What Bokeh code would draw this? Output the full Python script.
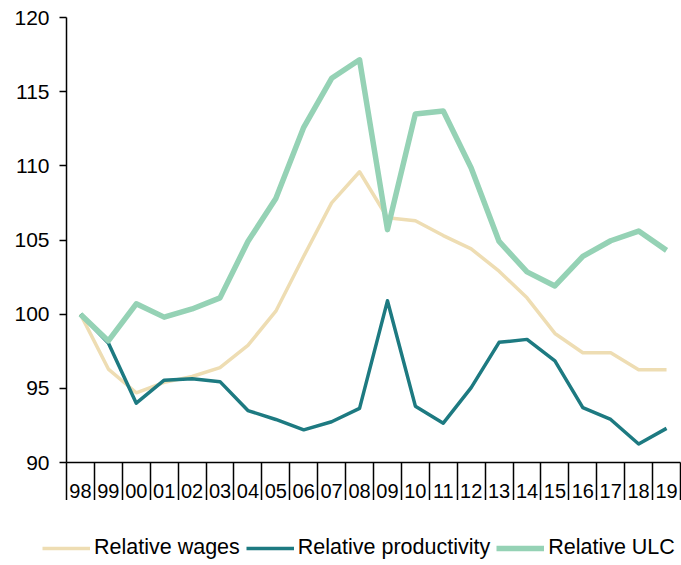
from bokeh.plotting import figure
from bokeh.models import FixedTicker, Range1d, Legend, LegendItem, ColumnDataSource
from bokeh.layouts import column
from bokeh.embed import file_html
from bokeh.resources import INLINE

years = ["98", "99", "00", "01", "02", "03", "04", "05", "06", "07", "08",
         "09", "10", "11", "12", "13", "14", "15", "16", "17", "18", "19"]
wages = [100.0, 96.3, 94.7, 95.4, 95.8, 96.4, 97.9, 100.2, 103.9, 107.5, 109.6,
         106.5, 106.3, 105.3, 104.4, 102.9, 101.1, 98.7, 97.4, 97.4, 96.25, 96.25]
productivity = [100.0, 98.05, 94.0, 95.55, 95.65, 95.45, 93.5, 92.9, 92.2, 92.75, 93.65,
                100.9, 93.8, 92.65, 95.05, 98.1, 98.3, 96.85, 93.7, 92.9, 91.25, 92.3]
ulc = [100.0, 98.2, 100.7, 99.8, 100.35, 101.1, 104.9, 107.8, 112.6, 115.9, 117.15,
       105.7, 113.5, 113.7, 109.85, 104.9, 102.85, 101.9, 103.9, 104.95, 105.6, 104.3]
y_ticks = [90, 95, 100, 105, 110, 115, 120]
series_names = ["Relative wages", "Relative productivity", "Relative ULC"]
series_cols = ["wages", "prod", "ulc"]
colors = ["#EEDDB3", "#1D7A81", "#95D2B5"]
widths = [3.5, 3.5, 5.5]

idx = list(range(1, len(years) + 1))
bounds = [i - 0.5 for i in idx] + [len(years) + 0.5]

src = ColumnDataSource(dict(x=idx, wages=wages, prod=productivity, ulc=ulc))

FONT = "Liberation Sans"

p = figure(width=681, height=500, output_backend="svg", toolbar_location=None,
           x_range=Range1d(0.5, len(years) + 0.5), y_range=Range1d(90, 120),
           min_border_left=66, min_border_right=1, min_border_top=17, min_border_bottom=20)
p.grid.visible = False
p.outline_line_color = None
p.background_fill_color = "white"
p.border_fill_color = "white"

for col, c, w in zip(series_cols, colors, widths):
    p.line("x", col, source=src, line_color=c, line_width=w, line_join="round")

# y axis
ya = p.yaxis[0]
ya.ticker = FixedTicker(ticks=y_ticks)
ya.axis_line_color = "black"
ya.axis_line_width = 1.5
ya.major_tick_line_color = "black"
ya.major_tick_line_width = 1.5
ya.major_tick_out = 7
ya.major_tick_in = 0
ya.minor_tick_line_color = None
ya.major_label_text_font = FONT
ya.major_label_text_font_size = "21px"
ya.major_label_text_color = "black"
ya.major_label_standoff = 10

# x axis: labels at centers, boundary lines as minor ticks
xa = p.xaxis[0]
xa.ticker = FixedTicker(ticks=idx, minor_ticks=bounds)
xa.major_label_overrides = {i: y for i, y in zip(idx, years)}
xa.axis_line_color = "black"
xa.axis_line_width = 1.5
xa.major_tick_line_color = None
xa.major_tick_out = 0
xa.major_tick_in = 0
xa.minor_tick_line_color = "black"
xa.minor_tick_line_width = 1.5
xa.minor_tick_out = 44
xa.minor_tick_in = 0
xa.major_label_text_font = FONT
xa.major_label_text_font_size = "20px"
xa.major_label_text_color = "black"
xa.major_label_standoff = -23

# legend strip below the chart (its lines fall outside its own view)
lg = figure(width=681, height=65, output_backend="svg", toolbar_location=None,
            x_range=Range1d(0, 0.1), y_range=Range1d(0, 0.1),
            x_axis_location=None, y_axis_location=None,
            min_border_left=0, min_border_right=0, min_border_top=0, min_border_bottom=0)
lg.frame_align = False
lg.grid.visible = False
lg.outline_line_color = None
items = []
for name, col, c, w in zip(series_names, series_cols, colors, widths):
    r = lg.line("x", col, source=src, line_color=c, line_width=w)
    items.append(LegendItem(label=name, renderers=[r]))
legend = Legend(items=items, orientation="horizontal", location=(42, 5),
                label_text_font=FONT, label_text_font_size="21.5px",
                label_text_color="black", glyph_width=48, glyph_height=20,
                label_standoff=4, spacing=6, padding=0, margin=0,
                border_line_color=None, background_fill_alpha=0)
lg.add_layout(legend, "center")

layout = column(p, lg, spacing=0)
open("out.html", "w").write(file_html(layout, INLINE))
